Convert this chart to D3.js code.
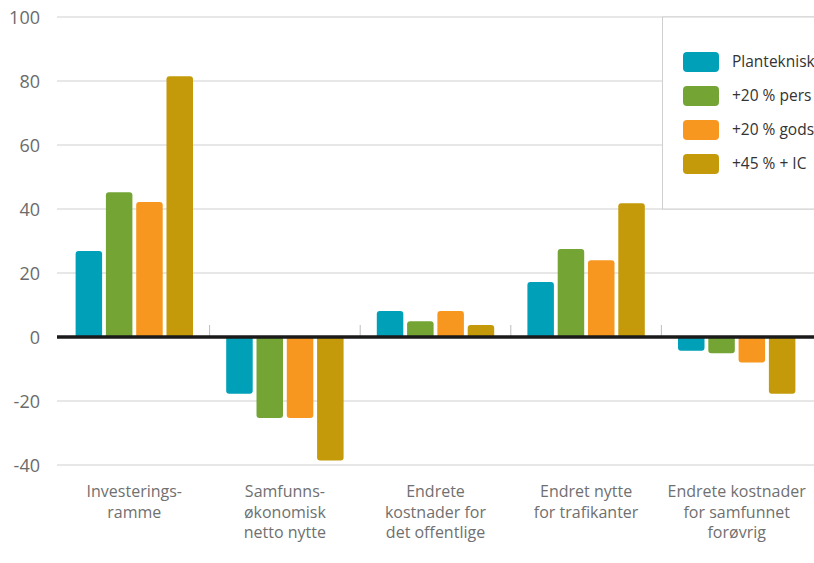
<!DOCTYPE html>
<html><head><meta charset="utf-8">
<script src="https://cdn.jsdelivr.net/npm/d3@7/dist/d3.min.js"></script>
<style>body{margin:0;background:#fff}svg{display:block}</style>
</head><body>
<svg id="c" width="814" height="563"></svg>
<script>
const categories = [["Investerings-","ramme"],["Samfunns-","økonomisk","netto nytte"],["Endrete","kostnader for","det offentlige"],["Endret nytte","for trafikanter"],["Endrete kostnader","for samfunnet","forøvrig"]];
const seriesNames = ["Planteknisk","+20 % pers","+20 % gods","+45 % + IC"];
const seriesColors = ["#00A0B8","#74A534","#F7971F","#C49A0A"];
const planteknisk = [26.9, -17.7, 8.1, 17.2, -4.3];
const pers20 = [45.2, -25.3, 4.9, 27.5, -5.1];
const gods20 = [42.2, -25.3, 8.1, 24.0, -8.0];
const ic45 = [81.5, -38.6, 3.75, 41.8, -17.7];
const yTicks = [-40,-20,0,20,40,60,80,100];
const series = [planteknisk, pers20, gods20, ic45];

const svg = d3.select("#c");
const y = d3.scaleLinear().domain([-40,100]).range([465,17]);
const x = d3.scaleBand().domain(d3.range(categories.length)).range([59,812]).paddingInner(0).paddingOuter(0);
const groupW = 117.4;
const xs = d3.scaleBand().domain(d3.range(series.length)).range([0,groupW]).paddingInner(0.125).paddingOuter(0);
const font = "'Open Sans', 'DejaVu Sans', sans-serif";

// gridlines
svg.append("g").selectAll("line").data(yTicks.filter(d=>d!==0)).join("line")
  .attr("x1",57).attr("x2",814).attr("y1",d=>y(d)).attr("y2",d=>y(d))
  .attr("stroke","#cfcfcf").attr("stroke-width",1);

// y labels
svg.append("g").selectAll("text").data(yTicks).join("text")
  .attr("x",40).attr("y",d=>y(d)+6.5).attr("text-anchor","end")
  .attr("font-family",font).attr("font-size",18).attr("fill","#6b6b6b").text(d=>d);

// category separators
svg.append("g").selectAll("line").data(d3.range(1,categories.length)).join("line")
  .attr("x1",d=>x(d)).attr("x2",d=>x(d)).attr("y1",325).attr("y2",337)
  .attr("stroke","#bdbdbd").attr("stroke-width",1);

// bars
function barPath(x0,w,v){
  const r=3, y0=y(0), y1=y(v);
  const s = v>=0 ? 1 : -1;
  return `M${x0},${y0}V${y1+s*r}Q${x0},${y1} ${x0+r},${y1}H${x0+w-r}Q${x0+w},${y1} ${x0+w},${y1+s*r}V${y0}Z`;
}
const offset = (x.bandwidth()-groupW)/2;
series.forEach((vals,si)=>{
  svg.append("g").selectAll("path").data(vals).join("path")
    .attr("d",(v,ci)=>barPath(x(ci)+offset+xs(si), xs.bandwidth(), v))
    .attr("fill",seriesColors[si]);
});

// zero line
svg.append("line").attr("x1",57).attr("x2",814).attr("y1",y(0)).attr("y2",y(0))
  .attr("stroke","#1a1a1a").attr("stroke-width",3.5);

// category labels
const cl = svg.append("g").selectAll("text").data(categories).join("text")
  .attr("x",(d,i)=>x(i)+x.bandwidth()/2).attr("y",497).attr("text-anchor","middle")
  .attr("font-family",font).attr("font-size",16).attr("fill","#707070");
cl.each(function(lines){
  d3.select(this).selectAll("tspan").data(lines).join("tspan")
    .attr("x",d3.select(this).attr("x")).attr("dy",(d,i)=>i?20.5:0).text(d=>d);
});

// legend
const lg = svg.append("g");
lg.append("rect").attr("x",662.5).attr("y",17).attr("width",160).attr("height",192)
  .attr("fill","#fff").attr("stroke","#cfcfcf").attr("stroke-width",1);
seriesNames.forEach((n,i)=>{
  lg.append("rect").attr("x",683).attr("y",52+i*34).attr("width",36).attr("height",20).attr("rx",4)
    .attr("fill",seriesColors[i]);
  lg.append("text").attr("x",732).attr("y",67+i*34).attr("font-family",font).attr("font-size",15.5)
    .attr("fill","#333").text(n);
});
</script>
</body></html>
